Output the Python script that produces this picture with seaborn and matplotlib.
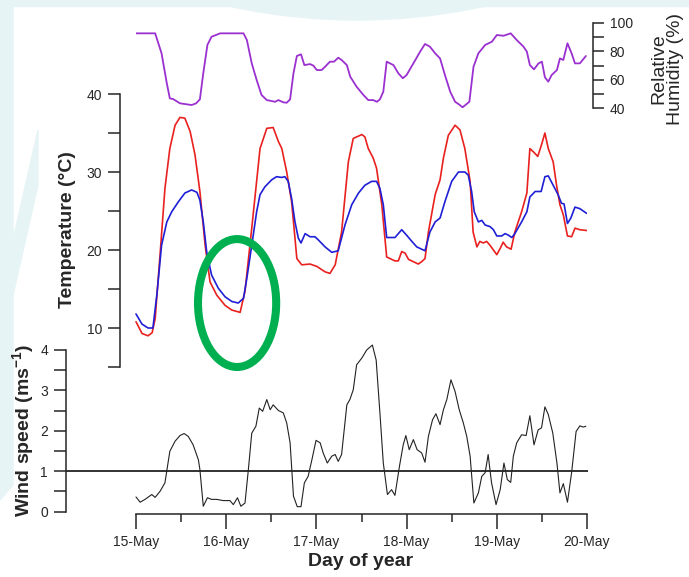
import matplotlib
matplotlib.use("Agg")
import matplotlib.pyplot as plt
import matplotlib.transforms as mtransforms
import seaborn as sns
from matplotlib.patches import Ellipse, Wedge, Polygon
from matplotlib.ticker import FixedLocator

# hours since 15-May 00:00
rh_hours = [0, 5.1, 6.8, 8.2, 9.0, 9.9, 11.7, 14.8, 16.0, 17.0,
            17.9, 19.0, 20.1, 22.4, 28.6, 29.5, 30.8, 32.1, 33.4, 34.8,
            37.0, 37.9, 39.2, 40.1, 41.0, 41.9, 42.8, 43.9, 44.8, 46.3,
            47.2, 48.1, 49.4, 50.3, 51.6, 52.7, 53.8, 54.7, 56.1, 57.0,
            58.7, 60.5, 61.8, 63.1, 64.1, 64.9, 65.8, 66.7, 68.5, 69.8,
            71.0, 72.0, 73.8, 75.6, 76.9, 78.2, 79.6, 80.9, 82.2, 83.6,
            84.9, 85.8, 86.9, 88.7, 89.8, 91.1, 92.9, 94.7, 96.0, 97.8,
            99.7, 101.3, 103.1, 104.0, 104.8, 105.9, 107.1, 108.0, 108.8, 109.7,
            110.6, 112.0, 112.8, 113.7, 114.8, 115.9, 116.8, 118.1, 119.7]
rh_vals = [92.7, 92.7, 78.6, 57.4, 46.8, 46.3, 43.3, 42.1, 43.3, 46.1,
           64.5, 84.5, 90.3, 92.7, 92.7, 88.0, 71.5, 59.8, 49.2, 45.6,
           44.4, 45.6, 44.0, 43.7, 46.1, 64.5, 76.7, 77.9, 70.3, 71.0,
           69.9, 66.8, 66.8, 69.1, 72.7, 72.7, 75.5, 73.9, 70.3, 62.1,
           55.0, 49.2, 45.6, 45.6, 44.4, 46.1, 51.5, 72.7, 70.3, 64.5,
           61.0, 63.3, 71.5, 79.8, 85.2, 83.3, 78.6, 75.0, 63.3, 51.5,
           44.4, 42.8, 40.5, 44.4, 69.1, 78.6, 84.5, 86.8, 91.5, 91.0,
           92.7, 88.0, 83.3, 79.8, 70.3, 67.3, 71.5, 72.7, 61.7, 58.6,
           63.3, 66.8, 75.0, 73.9, 85.7, 78.6, 71.5, 71.5, 76.7]

red_hours = [0, 1.6, 3.2, 4.3, 5.1, 6.4, 7.7, 9.0, 10.4, 11.7,
             13.0, 14.4, 15.7, 17.0, 18.4, 19.7, 21.5, 23.7, 25.5, 27.7,
             29.0, 30.8, 33.0, 34.8, 36.5, 37.9, 38.8, 40.1, 41.4, 42.8,
             44.1, 46.3, 48.1, 50.3, 51.6, 53.0, 54.7, 56.5, 57.8, 60.1,
             60.9, 61.8, 63.1, 64.0, 65.4, 66.7, 67.6, 68.9, 69.8, 70.7,
             71.6, 72.5, 73.8, 75.1, 76.0, 76.9, 77.8, 79.6, 80.9, 81.8,
             83.1, 84.9, 86.2, 87.5, 88.9, 89.7, 90.7, 91.5, 92.4, 93.3,
             94.2, 95.1, 96.0, 96.9, 97.7, 98.6, 99.8, 100.8, 102.6, 104.0,
             104.8, 105.7, 106.9, 107.9, 108.8, 109.7, 111.0, 111.9, 112.8, 113.7,
             114.8, 115.9, 116.8, 118.1, 119.9]
red_temp = [10.8, 9.3, 9.0, 9.4, 11.2, 19.4, 27.9, 33.0, 36.0, 37.0,
            36.9, 35.2, 32.2, 27.5, 20.6, 15.9, 14.2, 12.9, 12.3, 12.0,
            14.7, 22.8, 33.0, 35.6, 35.7, 33.9, 33.0, 30.0, 26.2, 18.9,
            18.1, 18.2, 17.9, 17.2, 17.0, 18.1, 22.3, 31.3, 34.3, 34.8,
            34.5, 33.0, 31.8, 30.5, 25.8, 19.1, 18.9, 18.6, 18.6, 19.8,
            19.6, 18.8, 18.5, 18.2, 18.5, 18.9, 22.3, 27.1, 29.0, 31.8,
            34.7, 36.0, 35.4, 33.0, 28.8, 22.3, 20.4, 21.1, 20.9, 21.1,
            20.6, 20.0, 19.4, 20.2, 21.0, 20.4, 20.1, 22.3, 24.9, 27.3,
            33.0, 32.6, 32.0, 33.5, 35.0, 33.0, 31.3, 28.3, 25.8, 24.5,
            21.8, 21.7, 22.8, 22.6, 22.5]

blue_hours = [0, 1.6, 3.2, 4.5, 5.6, 6.8, 8.2, 9.5, 11.3, 13.0,
              14.8, 16.2, 17.0, 17.9, 18.8, 20.1, 21.9, 23.7, 25.5, 27.2,
              28.6, 29.5, 30.8, 32.1, 33.0, 34.3, 36.1, 37.4, 38.8, 39.6,
              40.5, 41.4, 42.3, 43.2, 43.9, 45.0, 46.3, 47.6, 48.5, 50.3,
              52.1, 53.8, 55.6, 57.4, 59.2, 60.9, 62.7, 64.0, 64.9, 65.8,
              66.7, 68.9, 70.7, 72.0, 73.4, 74.7, 76.9, 78.2, 79.6, 80.9,
              82.2, 84.0, 85.8, 87.5, 88.4, 89.3, 90.0, 91.1, 92.0, 92.9,
              94.2, 95.1, 96.0, 97.3, 98.2, 99.1, 100.0, 100.8, 102.6, 104.0,
              104.8, 106.2, 107.8, 108.8, 109.7, 111.0, 112.3, 113.2, 113.9, 114.8,
              115.7, 116.8, 118.1, 119.9]
blue_temp = [11.8, 10.5, 10.0, 10.0, 14.5, 20.6, 23.6, 24.9, 26.2, 27.3,
             27.7, 27.4, 26.4, 23.6, 19.8, 16.8, 15.1, 14.0, 13.4, 13.2,
             13.8, 16.4, 20.6, 24.9, 27.1, 28.1, 29.0, 29.4, 29.3, 29.4,
             28.8, 26.6, 23.6, 21.5, 20.9, 22.1, 21.7, 21.7, 21.3, 20.4,
             19.7, 19.9, 23.2, 25.8, 27.3, 28.3, 28.8, 28.8, 27.9, 25.8,
             21.6, 21.6, 22.6, 21.9, 21.1, 20.4, 19.9, 22.3, 23.6, 24.1,
             26.2, 28.8, 30.0, 30.0, 29.6, 27.5, 24.9, 23.6, 23.8, 23.2,
             23.0, 22.6, 21.8, 21.8, 22.1, 21.9, 21.6, 22.1, 23.6, 24.9,
             26.8, 27.5, 27.5, 29.4, 29.5, 28.3, 27.1, 26.0, 25.9, 23.4,
             24.1, 25.5, 25.3, 24.7]

wind_hours = [0, 1.1, 2.4, 4.2, 5.1, 6.4, 7.7, 9.0, 10.4, 11.7,
              12.8, 13.9, 15.2, 16.6, 17.0, 17.9, 19.0, 20.1, 21.5, 23.2,
              25.0, 25.9, 27.0, 27.9, 29.0, 29.9, 30.8, 31.9, 32.8, 33.7,
              34.8, 35.7, 36.5, 37.9, 39.2, 40.1, 41.0, 41.9, 42.9, 43.9,
              44.8, 45.8, 46.8, 47.9, 49.0, 49.8, 50.9, 52.1, 53.0, 53.8,
              54.7, 56.1, 56.9, 57.8, 58.7, 60.1, 61.4, 62.9, 63.9, 64.9,
              65.8, 66.9, 68.0, 68.9, 70.1, 71.1, 71.8, 72.7, 73.8, 74.8,
              76.0, 76.9, 77.8, 78.9, 79.8, 80.9, 81.8, 82.7, 83.8, 84.9,
              86.0, 87.1, 88.0, 88.9, 89.9, 91.1, 92.0, 92.9, 93.7, 94.6,
              95.8, 96.9, 97.9, 98.8, 99.7, 100.4, 101.3, 102.6, 103.8, 104.8,
              105.9, 107.0, 107.9, 108.8, 109.7, 110.9, 112.0, 112.8, 113.7, 114.8,
              115.9, 117.1, 118.1, 119.0, 119.7]
wind_speed = [0.36, 0.23, 0.30, 0.42, 0.35, 0.50, 0.71, 1.49, 1.74, 1.88,
              1.93, 1.86, 1.65, 1.28, 1.04, 0.13, 0.34, 0.30, 0.30, 0.27,
              0.27, 0.17, 0.34, 0.13, 0.21, 1.04, 1.94, 2.11, 2.56, 2.48,
              2.77, 2.52, 2.64, 2.50, 2.44, 2.19, 1.70, 0.38, 0.12, 0.12,
              0.71, 0.87, 1.28, 1.76, 1.70, 1.45, 1.20, 1.37, 1.41, 1.24,
              1.41, 2.64, 2.77, 3.01, 3.63, 3.80, 4.00, 4.12, 3.75, 2.44,
              1.20, 0.42, 0.54, 0.40, 1.12, 1.65, 1.88, 1.53, 1.78, 1.53,
              1.45, 1.22, 1.86, 2.27, 2.42, 2.15, 2.52, 2.77, 3.26, 2.97,
              2.52, 2.19, 1.86, 1.37, 0.21, 0.46, 0.87, 0.96, 1.41, 0.71,
              0.17, 0.54, 1.20, 0.79, 0.72, 1.37, 1.70, 1.90, 1.88, 2.37,
              1.65, 2.02, 2.07, 2.59, 2.40, 1.94, 1.20, 0.46, 0.69, 0.23,
              0.96, 1.98, 2.12, 2.09, 2.11]

day_ticks = [0, 24, 48, 72, 96, 120]
day_labels = ["15-May", "16-May", "17-May", "18-May", "19-May", "20-May"]
wind_threshold = 1

sns.set_style("ticks")
plt.rcParams['font.family'] = ['Liberation Sans', 'DejaVu Sans']
plt.rcParams['mathtext.fontset'] = 'custom'
plt.rcParams['mathtext.rm'] = 'Liberation Sans'
plt.rcParams['mathtext.bf'] = 'Liberation Sans:bold'
plt.rcParams['axes.linewidth'] = 1.1

W, H = 689, 577
fig = plt.figure(figsize=(W / 100, H / 100), dpi=100)
fig.patch.set_facecolor('white')

# pixel layout (x of 0 h and 120 h)
X0, X1 = 136, 587
PXH = (X1 - X0) / 120.0


def make_axes(left, right, top, bottom):
    ax = fig.add_axes([left / W, 1 - bottom / H, (right - left) / W, (bottom - top) / H])
    ax.set_xlim((left - X0) / PXH, (right - X0) / PXH)
    ax.patch.set_alpha(0)
    for s in ax.spines.values():
        s.set_visible(False)
    ax.tick_params(axis='x', bottom=False, labelbottom=False)
    return ax


# faint background watermark
px = mtransforms.Affine2D().scale(1 / W, -1 / H).translate(0, 1) + fig.transFigure
bg = '#e6f4f6'
fig.add_artist(Wedge((357, -580), 600, 0, 360, width=28, transform=px, color=bg, zorder=-10))
fig.add_artist(Polygon([(0, 0), (689, 0), (689, 6), (0, 6)], closed=True,
                       transform=px, color=bg, zorder=-10))
fig.add_artist(Polygon([(0, 0), (13, 0), (13, 485), (0, 500)], closed=True,
                       transform=px, color=bg, zorder=-10))
fig.add_artist(Polygon([(13, 240), (38, 130), (38, 185), (13, 295)], closed=True,
                       transform=px, color=bg, zorder=-10))

# humidity panel
ax_h = make_axes(136, 593, 23, 108)
ax_h.set_ylim(40, 100)
sns.lineplot(x=rh_hours, y=rh_vals, ax=ax_h, color='#9b30d0', linewidth=1.3,
             estimator=None, sort=False)
ax_h.spines['right'].set_visible(True)
ax_h.spines['right'].set_bounds(40, 100)
ax_h.yaxis.tick_right()
ax_h.yaxis.set_major_locator(FixedLocator([40, 60, 80, 100]))
ax_h.yaxis.set_minor_locator(FixedLocator([50, 70, 90]))
ax_h.tick_params(axis='y', which='both', length=8, width=1.1, labelsize=10, pad=4,
                 right=True, left=False)

# temperature panel
ax_t = make_axes(120, 587, 94, 367)
ax_t.set_ylim(5, 40)
sns.lineplot(x=red_hours, y=red_temp, ax=ax_t, color='#e8211f', linewidth=1.2,
             estimator=None, sort=False)
sns.lineplot(x=blue_hours, y=blue_temp, ax=ax_t, color='#1f1fd6', linewidth=1.2,
             estimator=None, sort=False)
ax_t.spines['left'].set_visible(True)
ax_t.spines['left'].set_bounds(5, 40)
ax_t.yaxis.set_major_locator(FixedLocator([10, 20, 30, 40]))
ax_t.yaxis.set_minor_locator(FixedLocator([5, 15, 25, 35]))
ax_t.tick_params(axis='y', which='both', length=9, width=1.1, labelsize=10, pad=4)
ax_t.add_patch(Ellipse((26.9, 13.2), 20.8, 16.4, fill=False, edgecolor='#00b050',
                       linewidth=5.8, clip_on=False, zorder=5))

# wind panel
ax_w = make_axes(66, 588, 511.5 - 4.2 * 40.4, 511.5)
ax_w.set_ylim(0, 4.2)
sns.lineplot(x=wind_hours, y=wind_speed, ax=ax_w, color='#222222', linewidth=0.8,
             estimator=None, sort=False)
ax_w.axhline(wind_threshold, color='#222222', linewidth=1.3)
ax_w.spines['left'].set_visible(True)
ax_w.spines['left'].set_bounds(0, 4)
ax_w.spines['bottom'].set_visible(True)
ax_w.spines['bottom'].set_bounds(0, 120)
ax_w.spines['bottom'].set_position(('outward', 2))
ax_w.yaxis.set_major_locator(FixedLocator([0, 1, 2, 3, 4]))
ax_w.yaxis.set_minor_locator(FixedLocator([0.5, 1.5, 2.5, 3.5]))
ax_w.tick_params(axis='y', which='both', length=9, width=1.1, labelsize=10, pad=4)
ax_w.xaxis.set_major_locator(FixedLocator(day_ticks))
ax_w.xaxis.set_minor_locator(FixedLocator([12, 36, 60, 84, 108]))
ax_w.set_xticklabels(day_labels)
ax_w.tick_params(axis='x', which='major', bottom=True, labelbottom=True, length=11,
                 width=1.1, labelsize=10, pad=4)
ax_w.tick_params(axis='x', which='minor', bottom=True, length=6, width=1.1)

# axis titles
fig.text(67 / W, 1 - 230 / H, "Temperature (°C)", rotation=90, ha='center', va='center',
         fontsize=14, fontweight='bold')
fig.text(23 / W, 1 - 430 / H, r"Wind speed (ms$\mathbf{^{-1}}$)", rotation=90,
         ha='center', va='center', fontsize=14, fontweight='bold')
fig.text(361 / W, 1 - 561 / H, "Day of year", ha='center', va='center',
         fontsize=14, fontweight='bold')
fig.text(667 / W, 1 - 69 / H, "Relative\nHumidity (%)", rotation=90, ha='center',
         va='center', multialignment='center', fontsize=14, linespacing=1.0)

fig.savefig("out.png", dpi=100)
